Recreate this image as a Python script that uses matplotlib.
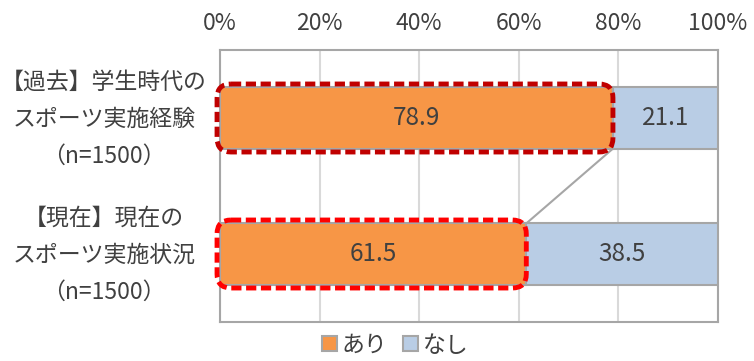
import numpy as np
import matplotlib.pyplot as plt
from matplotlib.patches import FancyBboxPatch
from matplotlib.transforms import blended_transform_factory

plt.rcParams['font.family'] = ['Noto Sans CJK JP', 'DejaVu Sans']

# データ
categories = ['【過去】学生時代の\nスポーツ実施経験\n（n=1500）',
              '【現在】現在の\nスポーツ実施状況\n（n=1500）']
ari = [78.9, 61.5]
nashi = [21.1, 38.5]
series_names = ['あり', 'なし']
xticks = [0, 20, 40, 60, 80, 100]

c_ari = '#F79646'
c_nashi = '#B9CDE5'
c_edge = '#A6A6A6'
c_text = '#404040'
box_colors = ['#C00000', '#FF0000']

fig = plt.figure(figsize=(7.54, 3.61), dpi=100)
ax = fig.add_axes([0.2918, 0.108, 0.6605, 0.7535])

y = np.arange(len(categories))
h = 0.45
ax.barh(y, ari, height=h, color=c_ari, edgecolor=c_edge, linewidth=1.5, zorder=3, label=series_names[0])
ax.barh(y, nashi, left=ari, height=h, color=c_nashi, edgecolor=c_edge, linewidth=1.5, zorder=3, label=series_names[1])

# 数値ラベル
for i in range(len(categories)):
    ax.text(ari[i] / 2, y[i], f'{ari[i]:.1f}', ha='center', va='center', fontsize=17.5, color=c_text, zorder=5)
    ax.text(ari[i] + nashi[i] / 2, y[i], f'{nashi[i]:.1f}', ha='center', va='center', fontsize=17.5, color=c_text, zorder=5)

# 系列線
ax.plot([ari[0], ari[1]], [y[0] + h / 2, y[1] - h / 2], color=c_edge, lw=1.5, zorder=2)

ax.set_xlim(0, 100)
ax.set_ylim(1.5, -0.5)

# 点線の角丸枠
aspect = (ax.get_position().height * 361 / 2) / (ax.get_position().width * 754 / 100)
for i in range(len(categories)):
    box = FancyBboxPatch((-0.6, y[i] - h / 2 - 0.025), ari[i] + 0.6, h + 0.05,
                         boxstyle='round,pad=0,rounding_size=2.8',
                         mutation_aspect=1 / aspect,
                         fill=False, edgecolor=box_colors[i], lw=3.5,
                         linestyle=(0, (2.1, 0.95)), zorder=6, clip_on=False)
    ax.add_patch(box)

# 軸
ax.xaxis.tick_top()
ax.set_xticks(xticks)
ax.set_xticklabels([f'{t}%' for t in xticks], fontsize=16.5, color=c_text)
ax.tick_params(axis='x', length=0, pad=11)
ax.set_yticks([])
ax.grid(axis='x', color='#D9D9D9', lw=1.5, zorder=0)
for s in ax.spines.values():
    s.set_color(c_edge)
    s.set_linewidth(1.5)

trans = blended_transform_factory(ax.transAxes, ax.transData)
for i, lab in enumerate(categories):
    ax.text(-0.233, y[i] + 0.01, lab, transform=trans, ha='center', va='center',
            fontsize=16.5, color=c_text, linespacing=1.78)

handles, labels = ax.get_legend_handles_labels()
fig.legend(handles, labels, loc='center', bbox_to_anchor=(0.524, 0.044), ncol=2, frameon=False,
           fontsize=16.5, handlelength=0.65, handleheight=0.65, handletextpad=0.2, columnspacing=0.7,
           labelcolor=c_text)

fig.savefig('out.png', dpi=100)
